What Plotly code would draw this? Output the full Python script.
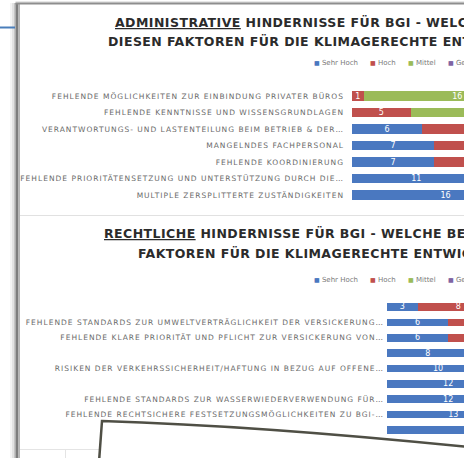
import plotly.graph_objects as go

W, H = 464, 458

# ---------------- data ----------------
series_names = ["Sehr Hoch", "Hoch", "Mittel", "Gering"]
series_colors = ["#4A78C0", "#C0504D", "#9BBB59", "#8064A2"]

admin_labels = [
    "FEHLENDE MÖGLICHKEITEN ZUR EINBINDUNG PRIVATER BÜROS",
    "FEHLENDE KENNTNISSE UND WISSENSGRUNDLAGEN",
    "VERANTWORTUNGS- UND LASTENTEILUNG BEIM BETRIEB & DER…",
    "MANGELNDES FACHPERSONAL",
    "FEHLENDE KOORDINIERUNG",
    "FEHLENDE PRIORITÄTENSETZUNG UND UNTERSTÜTZUNG DURCH DIE…",
    "MULTIPLE ZERSPLITTERTE ZUSTÄNDIGKEITEN",
]
admin_sehr_hoch = [None, None, 6, 7, 7, 11, 16]
admin_hoch = [1, 5, 8, 8, 7, 5, 2]
admin_mittel = [16, 10, 4, 4, 5, 3, 1]
admin_gering = [1, 3, 1, 1, 1, 1, None]

recht_labels = [
    "",
    "FEHLENDE STANDARDS ZUR UMWELTVERTRÄGLICHKEIT DER VERSICKERUNG…",
    "FEHLENDE KLARE PRIORITÄT UND PFLICHT ZUR VERSICKERUNG VON…",
    "",
    "RISIKEN DER VERKEHRSSICHERHEIT/HAFTUNG IN BEZUG AUF OFFENE…",
    "",
    "FEHLENDE STANDARDS ZUR WASSERWIEDERVERWENDUNG FÜR…",
    "FEHLENDE RECHTSICHERE FESTSETZUNGSMÖGLICHKEITEN ZU BGI-…",
    "",
]
recht_sehr_hoch = [3, 6, 6, 8, 10, 12, 12, 13, 17]
recht_hoch = [8, 8, 7, 7, 6, 5, 4, 5, 2]
recht_mittel = [6, 3, 4, 2, 1, 1, 2, 1, 1]
recht_gering = [1, 1, 1, 1, 1, None, 1, None, None]

admin_title = ["<u>ADMINISTRATIVE</u> HINDERNISSE FÜR BGI - WELCHE BEDEUTUNG MESSEN SIE",
               "DIESEN FAKTOREN FÜR DIE KLIMAGERECHTE ENTWICKLUNG BEI?"]
recht_title = ["<u>RECHTLICHE</u> HINDERNISSE FÜR BGI - WELCHE BEDEUTUNG MESSEN SIE DIESEN",
               "FAKTOREN FÜR DIE KLIMAGERECHTE ENTWICKLUNG BEI?"]


def px(x, y):
    return x / W, 1 - y / H


fig = go.Figure()

admin_vals = [admin_sehr_hoch, admin_hoch, admin_mittel, admin_gering]
recht_vals = [recht_sehr_hoch, recht_hoch, recht_mittel, recht_gering]

bar_text_font = dict(family="DejaVu Sans", size=8, color="white")

for name, color, vals in zip(series_names, series_colors, admin_vals):
    fig.add_trace(go.Bar(
        y=list(range(len(admin_labels))), x=vals, orientation="h", name=name,
        marker=dict(color=color, line=dict(width=0)), width=0.56,
        texttemplate="%{x}", textposition="inside", insidetextanchor="middle",
        constraintext="none", textangle=0, textfont=bar_text_font,
        xaxis="x", yaxis="y", showlegend=False, hoverinfo="skip"))

for name, color, vals in zip(series_names, series_colors, recht_vals):
    fig.add_trace(go.Bar(
        y=list(range(len(recht_labels))), x=vals, orientation="h", name=name,
        marker=dict(color=color, line=dict(width=0)), width=0.5,
        texttemplate="%{x}", textposition="inside", insidetextanchor="middle",
        constraintext="none", textangle=0, textfont=bar_text_font,
        xaxis="x2", yaxis="y2", showlegend=False, hoverinfo="skip"))

LS = "letter-spacing:1px"
tickfont = dict(family="DejaVu Sans", size=7.5, color="#6a6a6a")

x0a, x0r = 352, 387
unit_a, unit_r = 11.7, 10.2
ya_top, ya_bot = 87.75, 203.25
yr_top, yr_bot = 299.3, 437.7

fig.update_layout(
    width=W, height=H, margin=dict(l=0, r=0, t=0, b=0, autoexpand=False),
    paper_bgcolor="white", plot_bgcolor="rgba(0,0,0,0)",
    barmode="stack",
    xaxis=dict(domain=[x0a / W, 1], range=[0, (W - x0a) / unit_a], showgrid=False,
               zeroline=False, showticklabels=False, showline=False, automargin=False),
    yaxis=dict(domain=[1 - ya_bot / H, 1 - ya_top / H], range=[len(admin_labels) - 0.5, -0.5],
               tickmode="array", tickvals=list(range(len(admin_labels))),
               ticktext=[f"<span style='{LS}'>{t}</span>" for t in admin_labels],
               tickfont=tickfont, showgrid=False, zeroline=False, ticks="",
               ticklabelstandoff=7, anchor="x", automargin=False),
    xaxis2=dict(domain=[x0r / W, 1], range=[0, (W - x0r) / unit_r], showgrid=False,
                zeroline=False, showticklabels=False, showline=False, anchor="y2",
                automargin=False),
    yaxis2=dict(domain=[1 - yr_bot / H, 1 - yr_top / H], range=[len(recht_labels) - 0.5, -0.5],
                tickmode="array", tickvals=list(range(len(recht_labels))),
                ticktext=[f"<span style='{LS}'>{t}</span>" for t in recht_labels],
                tickfont=tickfont, showgrid=False, zeroline=False, ticks="",
                ticklabelstandoff=2, anchor="x2", automargin=False),
)

# ---------------- titles ----------------
title_font = dict(family="DejaVu Sans", size=12.5, color="#2b2b2b")
for (txt, x, y) in [(admin_title[0], 113, 23), (admin_title[1], 106, 41),
                    (recht_title[0], 102, 233), (recht_title[1], 136, 254)]:
    ax, ay = px(x, y)
    fig.add_annotation(text=f"<b><span style='letter-spacing:0.45px'>{txt}</span></b>",
                       x=ax, y=ay, xref="paper", yref="paper",
                       xanchor="left", yanchor="middle", showarrow=False, font=title_font)

# ---------------- legends (one per chart) ----------------
legend_x = [312, 368, 406, 446]
for ly in (63, 280):
    for name, color, lx in zip(series_names, series_colors, legend_x):
        ax, ay = px(lx, ly)
        fig.add_annotation(text=f"<span style='color:{color};font-size:6px'>■</span> {name}",
                           x=ax, y=ay, xref="paper", yref="paper", xanchor="left",
                           yanchor="middle", showarrow=False,
                           font=dict(family="DejaVu Sans", size=7, color="#7a7a7a"))

# ---------------- decorative frame ----------------
def rect(x0, y0, x1, y1, color, layer="above"):
    a0, b0 = px(x0, y0)
    a1, b1 = px(x1, y1)
    fig.add_shape(type="rect", xref="paper", yref="paper", x0=a0, y0=b0, x1=a1, y1=b1,
                  fillcolor=color, line=dict(width=0), layer=layer)


def line(x0, y0, x1, y1, color, w, layer="above"):
    a0, b0 = px(x0, y0)
    a1, b1 = px(x1, y1)
    fig.add_shape(type="line", xref="paper", yref="paper", x0=a0, y0=b0, x1=a1, y1=b1,
                  line=dict(color=color, width=w), layer=layer)


# left shadow + border
rect(10, 3, 12, H, "#f4f4f4")
rect(12, 3, 14, H, "#e2e2e2")
rect(14, 3, 15.5, H, "#c4c4c4")
rect(15.5, 3, 18.5, H, "#7d7d7d")
rect(18.5, 3, 20, H, "#b4b4b4")
# top border
rect(15.5, 1.5, W, 2.5, "#d2d2d2")
rect(15.5, 2.5, W, 4.5, "#8e8e8e")
# blue connector line at the left
line(0, 27.5, 15, 27.5, "#4A7EBB", 2)
# separator between the charts
line(20, 215.5, W, 215.5, "#e1e1e1", 1, layer="below")
# faint spreadsheet cells at bottom-left
line(20, 449.5, 101, 449.5, "#e4e4e4", 1)
line(65.5, 449.5, 65.5, H, "#e4e4e4", 1)


def path(points_cmd):
    out = []
    for cmd, pts in points_cmd:
        s = cmd
        s += " ".join(f"{px(x, y)[0]:.5f},{px(x, y)[1]:.5f}" for x, y in pts)
        out.append(s)
    return " ".join(out) + " Z"


paper_cmds = [("M", [(99, 462)]), ("L", [(102, 421)]),
              ("C", [(200, 424), (340, 434), (468, 447)]), ("L", [(468, 462)])]
shadow_cmds = [("M", [(101, 462)]), ("L", [(104, 423)]),
               ("C", [(200, 426), (340, 436), (468, 449)]), ("L", [(468, 462)])]
fig.add_shape(type="path", xref="paper", yref="paper", path=path(shadow_cmds),
              fillcolor="rgba(0,0,0,0)", line=dict(color="#c9c9bd", width=3), layer="above")
fig.add_shape(type="path", xref="paper", yref="paper", path=path(paper_cmds),
              fillcolor="white", line=dict(color="#4f4f45", width=2.5), layer="above")

fig.write_html("out.html", config={"displayModeBar": False},
               post_script="document.body.style.margin='0px';document.body.style.overflow='hidden';")
